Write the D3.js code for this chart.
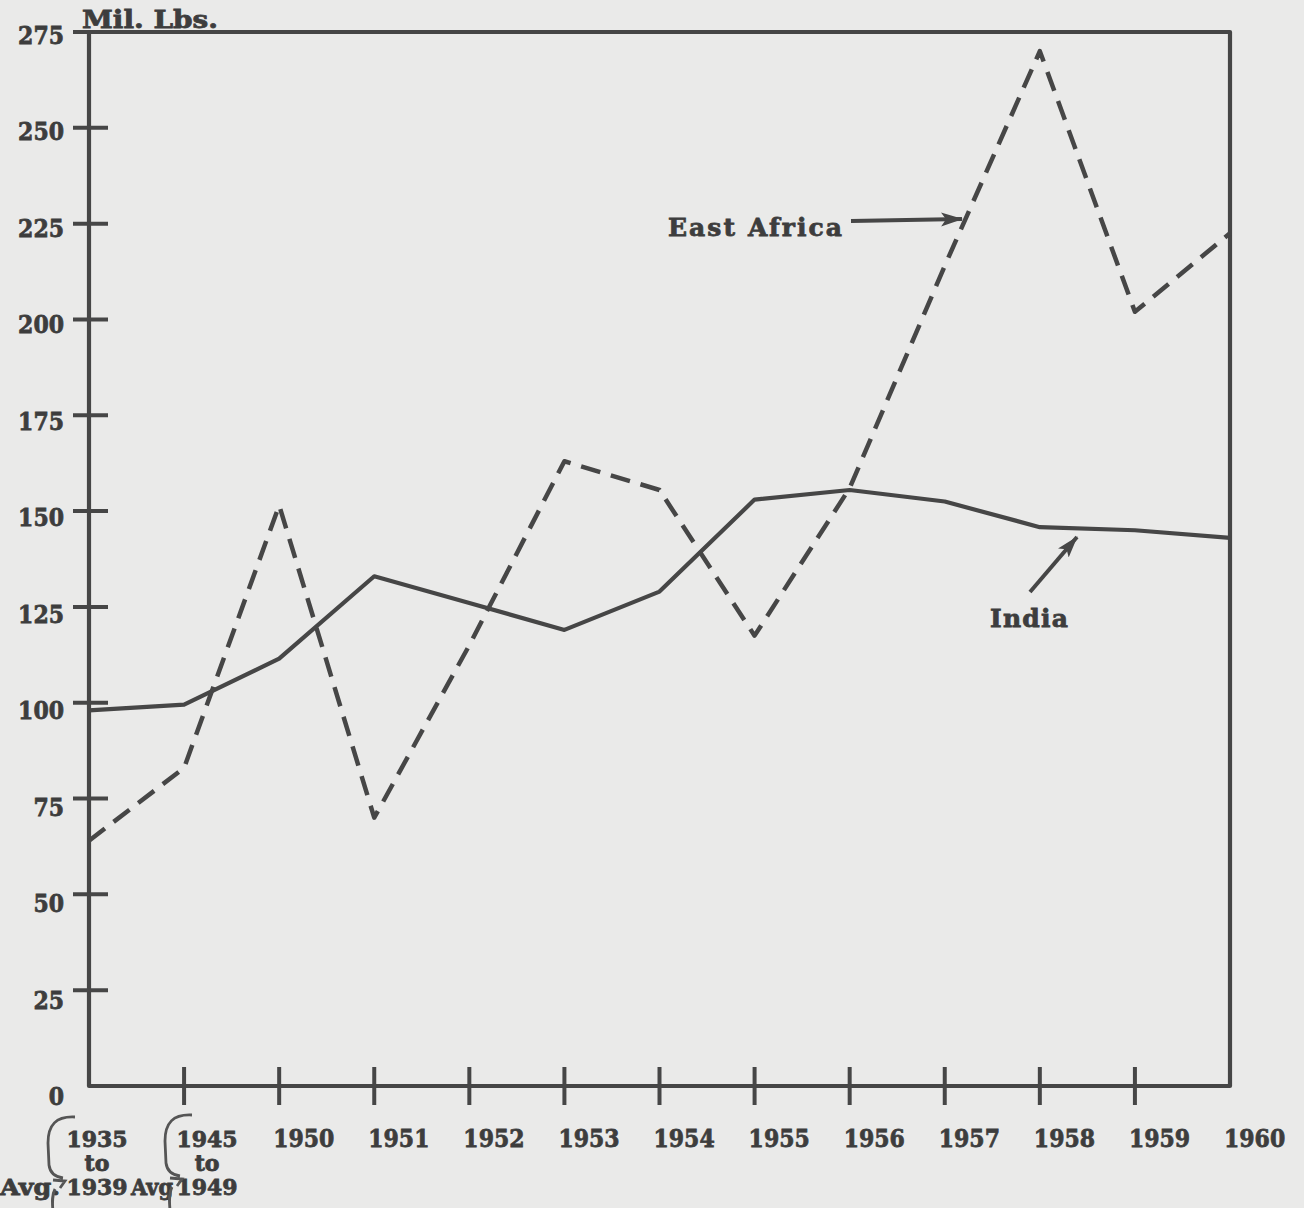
<!DOCTYPE html>
<html>
<head>
<meta charset="utf-8">
<script src="https://cdn.jsdelivr.net/npm/d3@7"></script>
<style>
  html, body { margin: 0; padding: 0; background: #eaeae9; }
  svg { display: block; }
  .lbl { font-family: "DejaVu Serif", "Liberation Serif", serif; font-weight: bold; font-size: 25px; fill: #3d3d3d; stroke: #3d3d3d; stroke-width: 0.8px; }
  .stack { font-size: 22px; }
</style>
</head>
<body>
<svg id="chart" width="1304" height="1208"></svg>
<script>
// ---- data ----
const categories = ["1935-39", "1945-49", "1950", "1951", "1952", "1953", "1954", "1955", "1956", "1957", "1958", "1959", "1960"];
const xTickLabels = [["1935", "to", "1939"], ["1945", "to", "1949"], ["1950"], ["1951"], ["1952"], ["1953"], ["1954"], ["1955"], ["1956"], ["1957"], ["1958"], ["1959"], ["1960"]];
const india = [98, 99.5, 111.5, 133, 126, 119, 129, 153, 155.5, 152.5, 145.8, 145, 143];
const eastAfrica = [64, 83, 151.5, 70, 115, 163, 155.5, 117.5, 156, 214, 270, 202, 222.5];
const yTickValues = [0, 25, 50, 75, 100, 125, 150, 175, 200, 225, 250, 275];
const yUnitLabel = "Mil. Lbs.";
const avgLabel = ["Avg.", "Avg"];
const seriesNames = ["East Africa", "India"];

// ---- layout ----
const ink = "#464646";
const digitW = 15.3;
const svg = d3.select("#chart");
const mLeft = 89, mRight = 1230, mTop = 32, mBottom = 1086;

const x = d3.scalePoint().domain(categories).range([mLeft, mRight]);
const y = d3.scaleLinear().domain([0, 275]).range([mBottom, mTop]);

// frame
svg.append("path")
  .attr("d", `M${mLeft - 16},${y(275)} L${mRight},${y(275)} L${mRight},${y(0)} L${mLeft},${y(0)} L${mLeft},${y(275)}`)
  .attr("fill", "none").attr("stroke", ink).attr("stroke-width", 4.2)
  .attr("stroke-linejoin", "round");

// y ticks (crossing the axis) and labels
const yt = svg.append("g");
yt.selectAll("line").data(yTickValues.filter(v => v > 0 && v < 275)).join("line")
  .attr("x1", mLeft - 16).attr("x2", mLeft + 19)
  .attr("y1", d => y(d)).attr("y2", d => y(d))
  .attr("stroke", ink).attr("stroke-width", 4);
yt.selectAll("text").data(yTickValues).join("text")
  .attr("class", "lbl")
  .attr("x", 64)
  .attr("y", d => y(d) + 12 + 7 * (1 - d / 275))
  .attr("text-anchor", "end")
  .attr("textLength", d => String(d).length * digitW)
  .attr("lengthAdjust", "spacingAndGlyphs")
  .text(d => d);

// x ticks
const xt = svg.append("g");
xt.selectAll("line").data(categories.slice(1, -1)).join("line")
  .attr("x1", d => x(d)).attr("x2", d => x(d))
  .attr("y1", mBottom - 19).attr("y2", mBottom + 19)
  .attr("stroke", ink).attr("stroke-width", 4);
xt.selectAll("text").data(categories).join("text")
  .attr("class", (d, i) => xTickLabels[i].length > 1 ? "lbl stack" : "lbl")
  .attr("text-anchor", (d, i) => xTickLabels[i].length > 1 ? "middle" : "start")
  .attr("x", (d, i) => xTickLabels[i].length > 1 ? x(d) + (i === 0 ? 8 : 23) : x(d) - 6)
  .attr("y", 1147)
  .each(function (d, i) {
    const t = d3.select(this);
    const cx = t.attr("x");
    xTickLabels[i].forEach((s, k) => {
      const ts = t.append("tspan").attr("x", cx).attr("dy", k === 0 ? 0 : 24).text(s);
      if (/^\d+$/.test(s)) ts.attr("textLength", s.length * digitW).attr("lengthAdjust", "spacingAndGlyphs");
    });
  });

// "Avg." labels next to the braces
svg.append("text").attr("class", "lbl stack").attr("x", 0).attr("y", 1195)
  .attr("textLength", 60).attr("lengthAdjust", "spacingAndGlyphs").text(avgLabel[0]);
svg.append("text").attr("class", "lbl stack").attr("x", 131).attr("y", 1195)
  .attr("textLength", 42).attr("lengthAdjust", "spacingAndGlyphs").text(avgLabel[1]);

// braces
function brace(x0, yTop) {
  return `M${x0 + 27},${yTop} C${x0 + 8},${yTop - 1} ${x0},${yTop + 8} ${x0},${yTop + 26}
          L${x0 + 1},${yTop + 48} C${x0 + 2},${yTop + 56} ${x0 + 8},${yTop + 60} ${x0 + 15},${yTop + 61}
          M${x0 + 5},${yTop + 63} L${x0 + 17},${yTop + 64} L${x0 + 12},${yTop + 71}
          M${x0 + 7},${yTop + 72} C${x0 + 4},${yTop + 78} ${x0 + 4},${yTop + 84} ${x0 + 5},${yTop + 95}`;
}
svg.append("path").attr("d", brace(48, 1117)).attr("fill", "none").attr("stroke", "#555").attr("stroke-width", 2.8);
svg.append("path").attr("d", brace(165, 1115)).attr("fill", "none").attr("stroke", "#555").attr("stroke-width", 2.8);

// unit label
svg.append("text").attr("class", "lbl").attr("x", 82).attr("y", 28)
  .attr("textLength", 136).attr("lengthAdjust", "spacingAndGlyphs").text(yUnitLabel);

// series
const line = d3.line().x((d, i) => x(categories[i])).y(d => y(d));
svg.append("path").datum(india).attr("d", line)
  .attr("fill", "none").attr("stroke", ink).attr("stroke-width", 4.2)
  .attr("stroke-linejoin", "round");
svg.append("path").datum(eastAfrica).attr("d", line)
  .attr("fill", "none").attr("stroke", ink).attr("stroke-width", 4.5)
  .attr("stroke-dasharray", "20,11").attr("stroke-linejoin", "round");

// annotations
const defs = svg.append("defs");
defs.append("marker").attr("id", "ah").attr("viewBox", "0 0 22 16")
  .attr("refX", 21).attr("refY", 8).attr("markerWidth", 22).attr("markerHeight", 16)
  .attr("markerUnits", "userSpaceOnUse").attr("orient", "auto")
  .append("path").attr("d", "M0,1 L22,8 L0,15 L5,8 Z").attr("fill", ink);

svg.append("text").attr("class", "lbl").attr("x", 668).attr("y", 236)
  .attr("textLength", 174).attr("lengthAdjust", "spacing").text(seriesNames[0]);
svg.append("line").attr("x1", 851).attr("y1", 221).attr("x2", 962).attr("y2", 219)
  .attr("stroke", ink).attr("stroke-width", 4).attr("marker-end", "url(#ah)");

svg.append("text").attr("class", "lbl").attr("x", 990).attr("y", 627)
  .attr("textLength", 78).attr("lengthAdjust", "spacing").text(seriesNames[1]);
svg.append("line").attr("x1", 1030).attr("y1", 592).attr("x2", 1077).attr("y2", 537)
  .attr("stroke", ink).attr("stroke-width", 4).attr("marker-end", "url(#ah)");
</script>
</body>
</html>
